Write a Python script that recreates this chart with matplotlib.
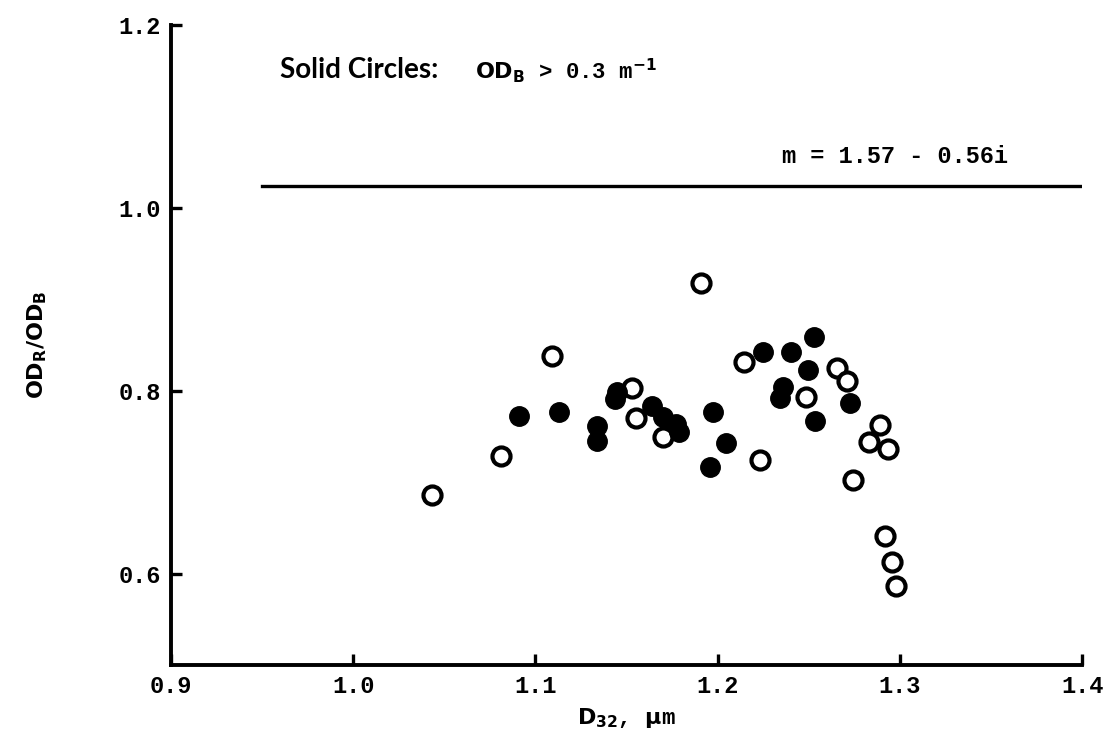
import matplotlib
matplotlib.use("Agg")
import matplotlib.pyplot as plt

# open circles
open_x = [1.043, 1.081, 1.109, 1.153, 1.155, 1.170, 1.191, 1.2145, 1.223, 1.2485,
          1.2655, 1.271, 1.274, 1.289, 1.283, 1.2935, 1.292, 1.2957, 1.298]
open_y = [0.686, 0.729, 0.838, 0.803, 0.770, 0.749, 0.918, 0.831, 0.724, 0.793,
          0.825, 0.810, 0.702, 0.762, 0.744, 0.736, 0.641, 0.613, 0.587]

# solid circles (OD_B > 0.3 1/m)
solid_x = [1.091, 1.113, 1.134, 1.134, 1.145, 1.1437, 1.164, 1.170, 1.177, 1.179,
           1.1975, 1.2046, 1.196, 1.225, 1.240, 1.253, 1.2496, 1.236, 1.234, 1.2727, 1.2535]
solid_y = [0.772, 0.777, 0.761, 0.745, 0.799, 0.791, 0.783, 0.771, 0.763, 0.755,
           0.777, 0.743, 0.716, 0.842, 0.842, 0.859, 0.823, 0.804, 0.792, 0.786, 0.767]

# theory line m = 1.57 - 0.56i
line_x = [0.95, 1.4]
line_y = [1.024, 1.024]

x_ticks = [0.9, 1.0, 1.1, 1.2, 1.3, 1.4]
y_ticks = [0.6, 0.8, 1.0, 1.2]

TICK_FONT = dict(family="Liberation Mono", weight="bold", size=17)

fig = plt.figure(figsize=(11.1, 7.44), dpi=100)
ax = fig.add_axes([0.154, 0.106, 0.821, 0.861])

ax.plot(line_x, line_y, color="black", lw=2.4)
ax.plot(open_x, open_y, "o", ls="none", ms=13, mfc="white", mec="black", mew=3)
ax.plot(solid_x, solid_y, "o", ls="none", ms=14, mfc="black", mec="black", mew=1)

ax.set_xlim(0.9, 1.4)
ax.set_ylim(0.5, 1.2)
ax.set_xticks(x_ticks)
ax.set_yticks(y_ticks)
ax.set_xticklabels([f"{v:.1f}" for v in x_ticks], fontdict=TICK_FONT)
ax.set_yticklabels([f"{v:.1f}" for v in y_ticks], fontdict=TICK_FONT)
ax.tick_params(direction="in", length=8, width=2.4, pad=7)

for side in ["top", "right"]:
    ax.spines[side].set_visible(False)
for side in ["left", "bottom"]:
    ax.spines[side].set_linewidth(2.8)

ax.set_xlabel(r"$\mathbf{D_{32}}$, $\mathbf{\mu}$m", fontsize=16, fontweight="bold",
              family="Liberation Mono", labelpad=6)
ax.set_ylabel(r"$\mathbf{OD_R/OD_B}$", fontsize=16, labelpad=50)

ax.text(0.96, 1.15, "Solid Circles:", fontsize=20, fontweight="bold",
        family="Lato", va="center")
ax.text(1.067, 1.15, r"$\mathbf{OD_B}$ > 0.3 m$^{\mathbf{-1}}$", fontsize=16,
        fontweight="bold", family="Liberation Mono", va="center")
ax.text(1.297, 1.056, "m = 1.57 - 0.56i", fontsize=17, fontweight="bold",
        family="Liberation Mono", ha="center", va="center")

fig.savefig("out.png", dpi=100)
